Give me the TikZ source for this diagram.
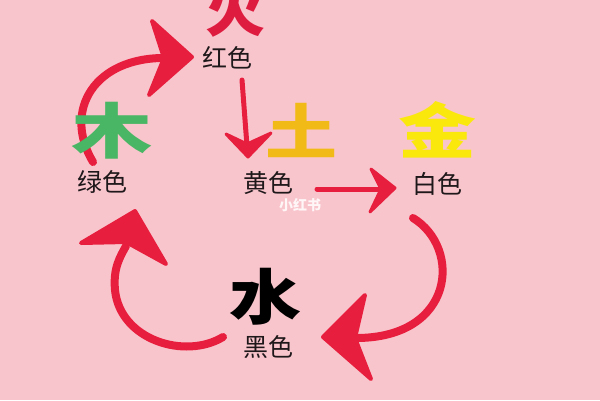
\documentclass[tikz,border=0pt]{standalone}
\usepackage{fontspec}
\newfontfamily\cjk{Noto Sans CJK SC}
\definecolor{bgpink}{RGB}{249,197,204}
\definecolor{arrowred}{RGB}{232,30,62}
\definecolor{firered}{RGB}{222,28,64}
\definecolor{woodgreen}{RGB}{72,182,100}
\definecolor{earthgold}{RGB}{242,186,22}
\definecolor{metalyellow}{RGB}{250,232,12}
\definecolor{labelgray}{RGB}{30,24,26}
\tikzset{
  bigchar/.style={inner sep=0pt, font=\cjk\bfseries\fontsize{60bp}{60bp}\selectfont},
  colorlabel/.style={inner sep=0pt, text=labelgray, font=\cjk\fontsize{25bp}{25bp}\selectfont},
  curvearrow/.style={draw=arrowred, line width=8bp, line cap=round},
  straightarrow/.style={draw=arrowred, line width=5bp, line cap=round},
  arrowhead/.style={fill=arrowred, draw=arrowred, line width=4bp, line join=round},
  watermark/.style={inner sep=0pt, text=white, opacity=0.85, font=\cjk\bfseries\fontsize{14bp}{14bp}\selectfont}
}
\begin{document}
\begin{tikzpicture}[x=1bp,y=-1bp]
\useasboundingbox (0,0) rectangle (600,400);
\clip (0,0) rectangle (600,400);
\fill[bgpink] (0,0) rectangle (600,400);

% curved arrows (drawn below the characters)
\coordinate (woodout) at (93,162);
\coordinate (fireIn) at (166,58);
\draw[curvearrow] (woodout) .. controls (62,110) and (95,57) .. (fireIn);
\draw[arrowhead] (192,57) -- (152,21) -- (164,58) -- (149,95) -- cycle;

\coordinate (metalout) at (413,218);
\coordinate (waterIn) at (356,338);
\draw[curvearrow] (metalout) .. controls (462,248) and (455,338) .. (waterIn);
\draw[arrowhead] (323,337) -- (365,295) -- (355,338) -- (371,379) -- cycle;

\coordinate (waterout) at (223,337);
\coordinate (woodIn) at (126,246);
\draw[curvearrow] (waterout) .. controls (185,360) and (120,340) .. (115,290)
  .. controls (113,268) and (120,257) .. (woodIn);
\draw[arrowhead] (135,211) -- (81,243) -- (126,242) -- (166,264) -- cycle;

% characters
\node[bigchar, text=firered] (fire) at (235,9) {火};
\node[colorlabel] (red) at (227,58) {红色};
\node[bigchar, text=woodgreen] (wood) at (112,131) {\scalebox{1.35}[1]{木}};
\node[colorlabel] (green) at (102,182) {绿色};
\node[bigchar, text=earthgold] (earth) at (301,130) {\scalebox{1.2}[1]{土}};
\node[colorlabel] (yellow) at (268,183) {黄色};
\node[bigchar, text=metalyellow] (metal) at (437,130) {\scalebox{1.3}[1]{金}};
\node[colorlabel] (white) at (437,184) {白色};
\node[bigchar, text=black] (water) at (265,297) {\scalebox{1.2}[1]{水}};
\node[colorlabel] (black) at (268,347) {黑色};
\node[watermark] (mark) at (300,205) {小红书};

% straight arrows
\coordinate (redout) at (242,80);
\coordinate (yellowIn) at (247,146);
\draw[straightarrow] (redout) -- (yellowIn);
\draw[arrowhead, line width=3bp] (248,157) -- (226,134) -- (247,144) -- (271,133) -- cycle;
\coordinate (yellowout) at (317,189);
\coordinate (whiteIn) at (381,189);
\draw[straightarrow] (yellowout) -- (whiteIn);
\draw[arrowhead, line width=3bp] (395,188) -- (371,169) -- (381,189) -- (370,212) -- cycle;
\end{tikzpicture}
\end{document}
